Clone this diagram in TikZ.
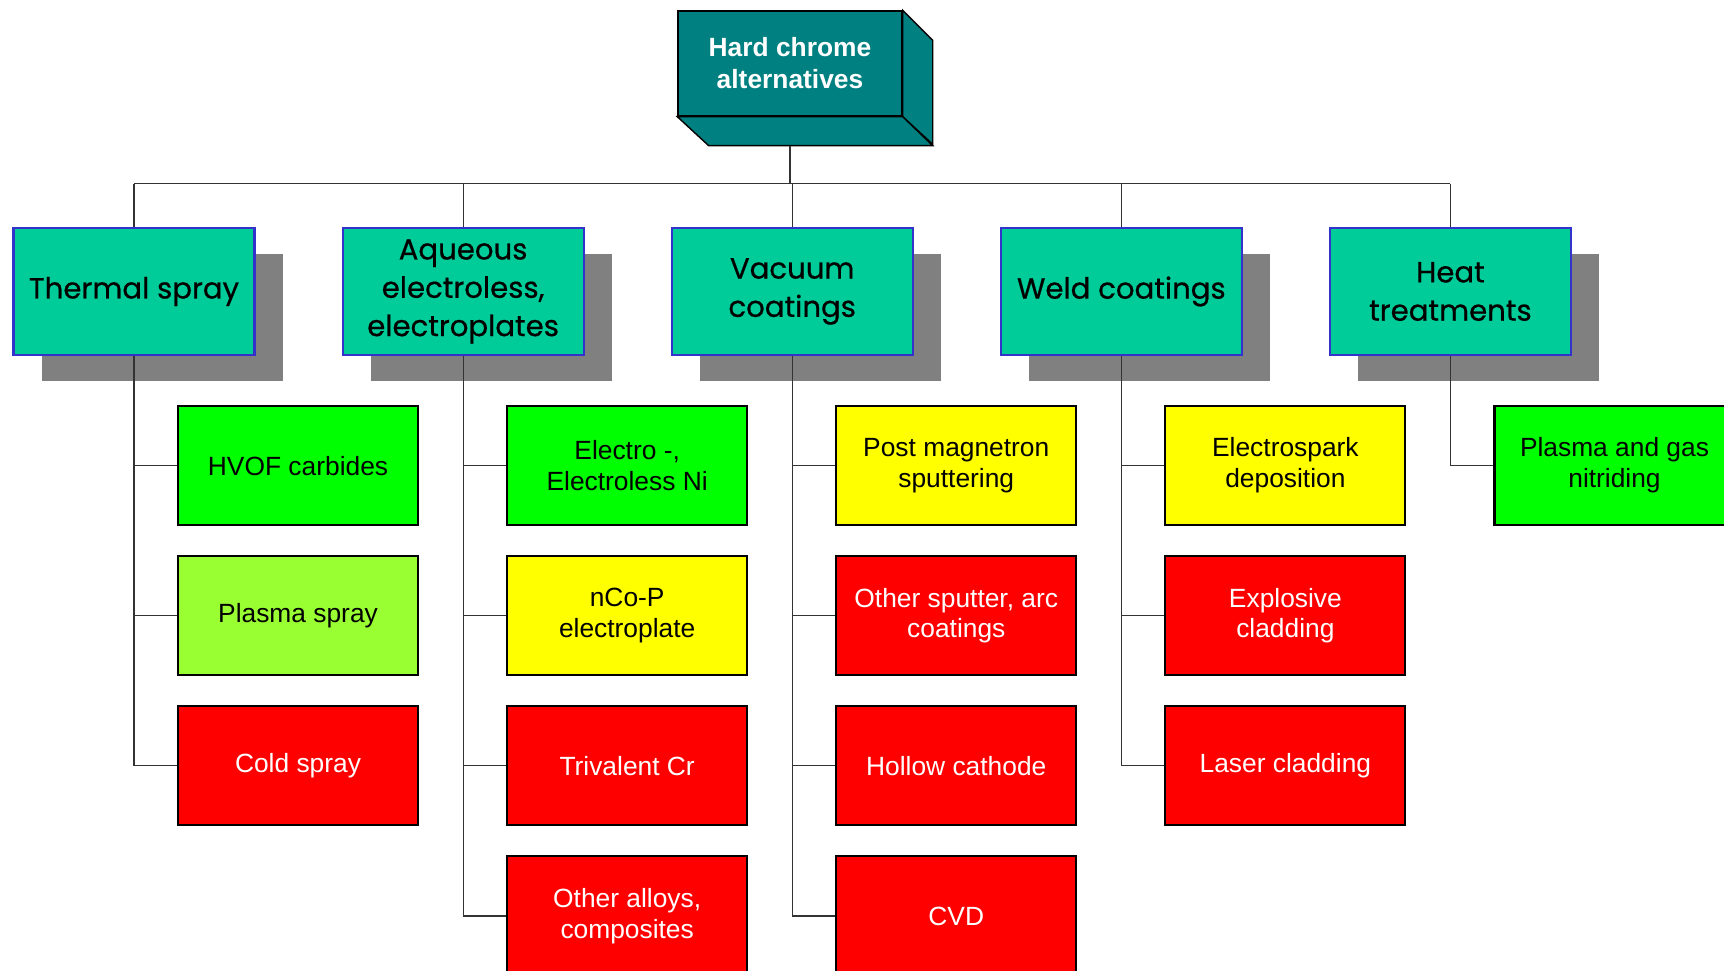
\documentclass[tikz,border=0pt]{standalone}
\usepackage{fontspec}
\setmainfont{Liberation Sans}
\newfontfamily\catfont[FakeBold=0.6]{Poppins}
\usetikzlibrary{positioning,shadows}
\definecolor{rootteal}{HTML}{008080}
\definecolor{catgreen}{HTML}{00CC99}
\definecolor{catblue}{HTML}{3333CC}
\definecolor{shadowgray}{HTML}{808080}
\definecolor{leafgreen}{HTML}{00FF00}
\definecolor{leaflime}{HTML}{99FF33}
\definecolor{leafyellow}{HTML}{FFFF00}
\definecolor{leafred}{HTML}{FF0000}
\tikzset{
  rootbox/.style = {draw=black, line width=0.4pt, fill=rootteal, text=white, minimum width=2.24cm, minimum height=1.05cm, inner sep=0pt, align=center, font=\bfseries\fontsize{7.5}{9.1}\selectfont},
  catbox/.style = {draw=catblue, line width=0.6pt, fill=catgreen, minimum width=2.41cm, minimum height=1.27cm, inner sep=0pt, align=center, font=\catfont\fontsize{8.3}{10.9}\selectfont, general shadow={fill=shadowgray, shadow xshift=0.28cm, shadow yshift=-0.26cm}},
  leaf/.style = {draw=black, line width=0.6pt, minimum width=2.40cm, minimum height=1.19cm, inner sep=0pt, align=center, font=\fontsize{7.5}{8.8}\selectfont},
  good/.style = {leaf, fill=leafgreen},
  fair/.style = {leaf, fill=leaflime},
  maybe/.style = {leaf, fill=leafyellow},
  poor/.style = {leaf, fill=leafred, text=white},
  link/.style = {draw=black!80, line width=0.35pt},
  first/.style = {below=0.49cm of #1.south, anchor=north west, xshift=0.43cm},
  next/.style = {below=0.29cm of #1},
}
\begin{document}
\begin{tikzpicture}
\useasboundingbox (0,0) rectangle (17.24,-9.71);
% root box with its 3d faces
\node[rootbox] (root) at (7.90,-0.635) {Hard chrome\\alternatives};
\filldraw[fill=rootteal, draw=black, line width=0.4pt] (root.north east) -- ++(0.30,-0.30) -- ++(0,-1.04) -- (root.south east) -- cycle;
\filldraw[fill=rootteal, draw=black, line width=0.4pt] (root.south west) -- (root.south east) -- ++(0.30,-0.29) -- ++(-2.24,0) -- cycle;
\coordinate (rootfoot) at ([yshift=-0.29cm]root.south);
\coordinate (bar) at ([yshift=-0.38cm]rootfoot);

% categories
\node[catbox] (thermal) at (1.34,-2.915) {Thermal spray};
\node[catbox] (aqueous) [right=0.86cm of thermal] {Aqueous\\electroless,\\electroplates};
\node[catbox] (vacuum) [right=0.86cm of aqueous] {Vacuum\\coatings};
\node[catbox] (weld) [right=0.86cm of vacuum] {Weld coatings};
\node[catbox] (heat) [right=0.86cm of weld] {Heat\\treatments};

% leaves
\node[good] (hvof) [first=thermal] {HVOF carbides};
\node[fair] (plasmaspray) [next=hvof] {Plasma spray};
\node[poor] (coldspray) [next=plasmaspray] {Cold spray};

\node[good] (electroni) [first=aqueous] {Electro -,\\Electroless Ni};
\node[maybe] (ncop) [next=electroni] {nCo-P\\electroplate};
\node[poor] (trivalent) [next=ncop] {Trivalent Cr};
\node[poor] (otheralloys) [next=trivalent] {Other alloys,\\composites};

\node[maybe] (magnetron) [first=vacuum] {Post magnetron\\sputtering};
\node[poor] (sputterarc) [next=magnetron] {Other sputter, arc\\coatings};
\node[poor] (hollow) [next=sputterarc] {Hollow cathode};
\node[poor] (cvd) [next=hollow] {CVD};

\node[maybe] (electrospark) [first=weld] {Electrospark\\deposition};
\node[poor] (explosive) [next=electrospark] {Explosive\\cladding};
\node[poor] (laser) [next=explosive] {Laser cladding};

\node[good] (nitriding) [first=heat] {Plasma and gas\\nitriding};

% connectors
\draw[link] (rootfoot) -- (bar);
\draw[link] (thermal.north |- bar) -- (heat.north |- bar);
\foreach \c in {thermal,aqueous,vacuum,weld,heat}
  \draw[link] (\c.north |- bar) -- (\c.north);
\foreach \c/\l in {thermal/hvof,thermal/plasmaspray,thermal/coldspray,
    aqueous/electroni,aqueous/ncop,aqueous/trivalent,aqueous/otheralloys,
    vacuum/magnetron,vacuum/sputterarc,vacuum/hollow,vacuum/cvd,
    weld/electrospark,weld/explosive,weld/laser,heat/nitriding}
  \draw[link] (\c.south) |- (\l.west);
\end{tikzpicture}
\end{document}
